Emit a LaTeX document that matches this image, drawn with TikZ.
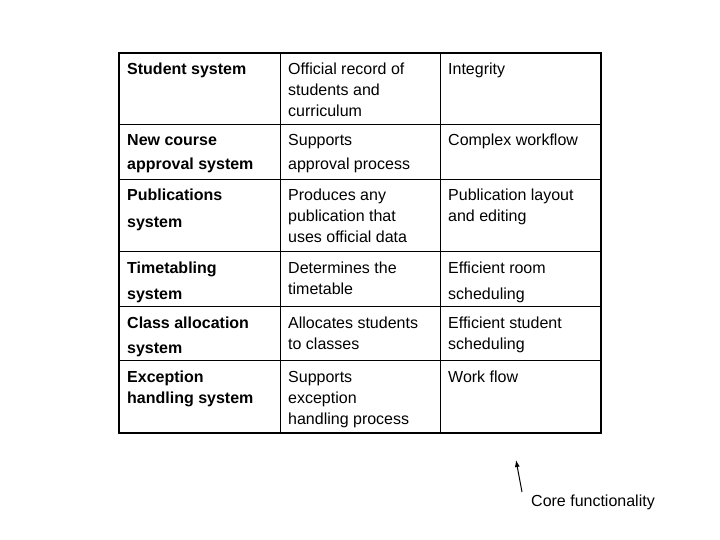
\documentclass[tikz,border=0pt]{standalone}
\usepackage{fontspec}
\setmainfont{Liberation Sans}
\usetikzlibrary{arrows.meta}
\begin{document}
\begin{tikzpicture}[x=1pt,y=-1pt,
  t/.style={anchor=base west,inner sep=0pt,font=\fontsize{16}{19}\selectfont},
  h/.style={t,font=\fontsize{16}{19}\selectfont\bfseries},
  grid/.style={line width=1pt},
  outer/.style={line width=2pt}]
\useasboundingbox (0,0) rectangle (720,540);
\draw[grid] (280,53) -- (280,433) (440,53) -- (440,433);
\foreach \yy in {125,180,251,306,360} \draw[grid] (119,\yy) -- (601,\yy);
\draw[outer] (119,53) rectangle (601,433);
\node[h] (a1) at (127,75) {Student system};
\node[t] (b1) at (288,75) {Official record of};
\node[t] (b1b) at (288,96) {students and};
\node[t] (b1c) at (288,117) {curriculum};
\node[t] (c1) at (448,75) {Integrity};
\node[h] (a2) at (127,146) {New course};
\node[h] (a2b) at (127,170) {approval system};
\node[t] (b2) at (288,146) {Supports};
\node[t] (b2b) at (288,170) {approval process};
\node[t] (c2) at (448,146) {Complex workflow};
\node[h] (a3) at (127,201) {Publications};
\node[h] (a3b) at (127,227) {system};
\node[t] (b3) at (288,201) {Produces any};
\node[t] (b3b) at (288,222) {publication that};
\node[t] (b3c) at (288,243) {uses official data};
\node[t] (c3) at (448,201) {Publication layout};
\node[t] (c3b) at (448,222) {and editing};
\node[h] (a4) at (127,273) {Timetabling};
\node[h] (a4b) at (127,299) {system};
\node[t] (b4) at (288,273) {Determines the};
\node[t] (b4b) at (288,294) {timetable};
\node[t] (c4) at (448,273) {Efficient room};
\node[t] (c4b) at (448,299) {scheduling};
\node[h] (a5) at (127,328) {Class allocation};
\node[h] (a5b) at (127,353) {system};
\node[t] (b5) at (288,328) {Allocates students};
\node[t] (b5b) at (288,349) {to classes};
\node[t] (c5) at (448,328) {Efficient student};
\node[t] (c5b) at (448,349) {scheduling};
\node[h] (a6) at (127,382) {Exception};
\node[h] (a6b) at (127,403) {handling system};
\node[t] (b6) at (288,382) {Supports};
\node[t] (b6b) at (288,403) {exception};
\node[t] (b6c) at (288,424) {handling process};
\node[t] (c6) at (448,382) {Work flow};
\node[t] (core) at (531,506) {Core functionality};
\coordinate (tail) at (522,492);
\coordinate (head) at (516,460);
\draw[line width=1pt,-{Latex[length=7pt,width=5pt]}] (tail) -- (head);
\end{tikzpicture}
\end{document}
